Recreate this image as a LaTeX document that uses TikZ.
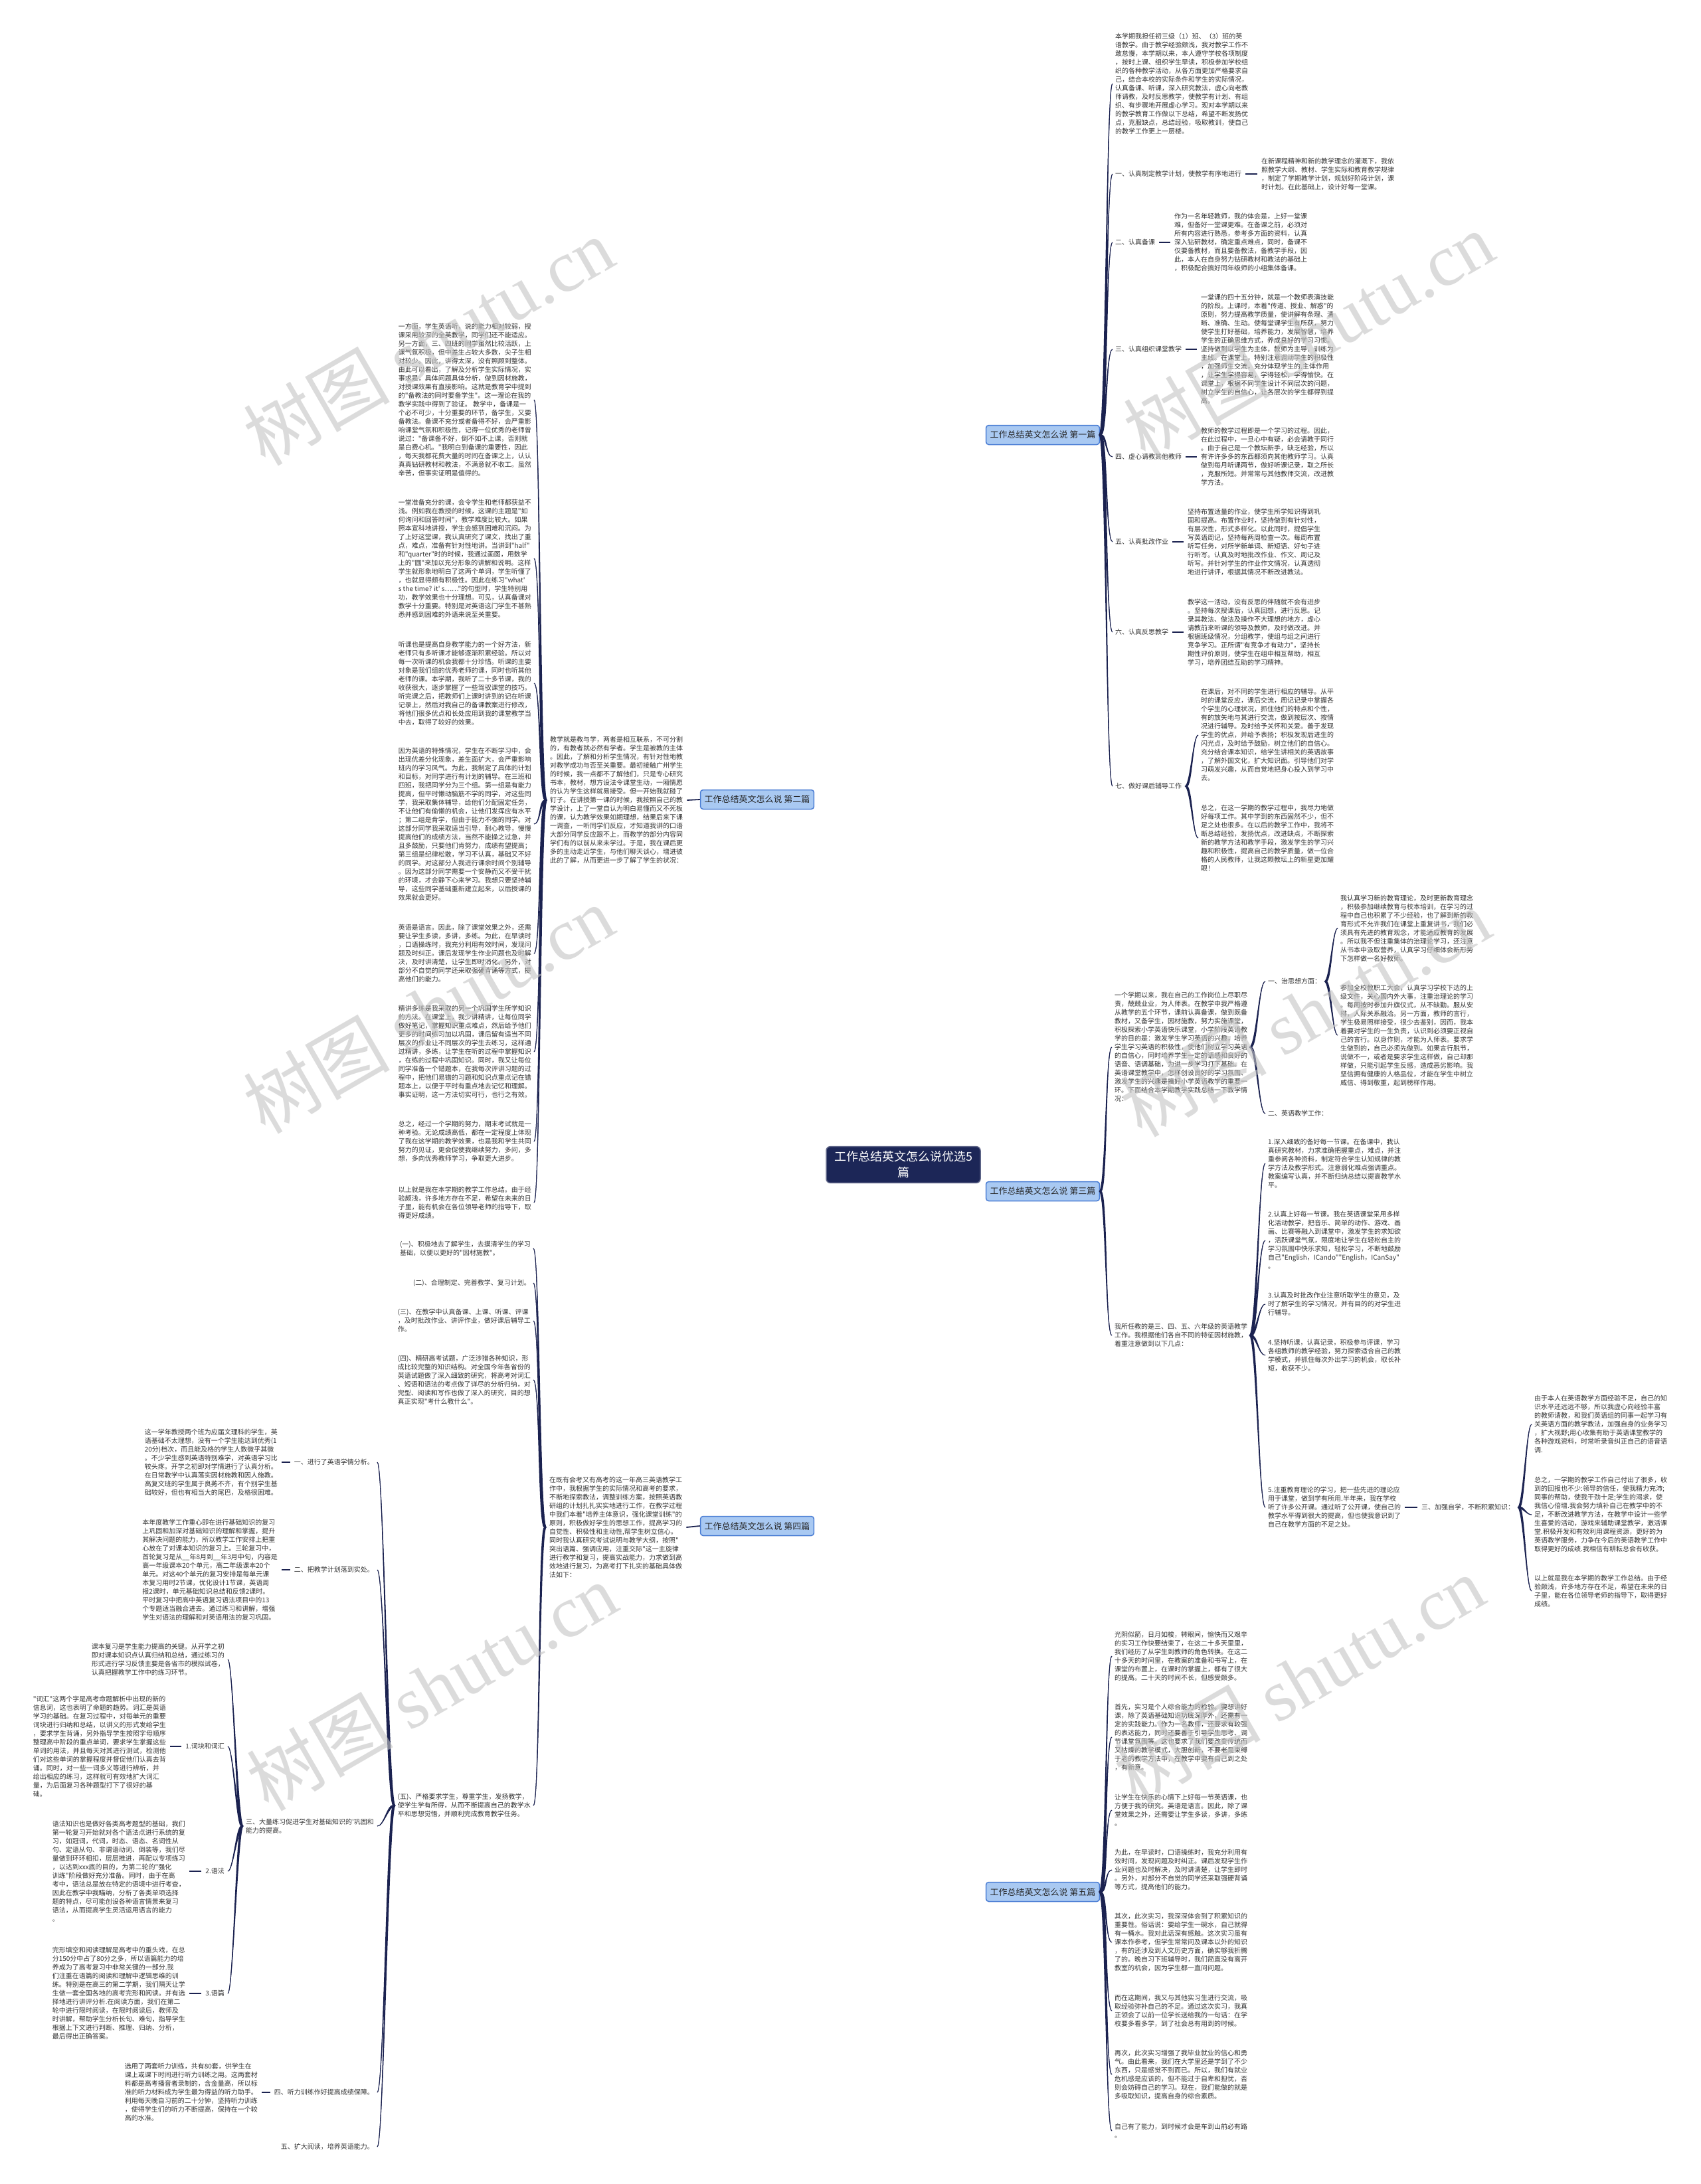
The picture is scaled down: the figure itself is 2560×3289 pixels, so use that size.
\documentclass[tikz,border=0pt]{standalone}
\usepackage{fontspec}
\newfontfamily\cjk{Noto Sans CJK SC}
\newfontfamily\wmlat{Liberation Serif}
\usetikzlibrary{calc}
\pgfdeclarelayer{bg}
\pgfsetlayers{bg,main}
\definecolor{linec}{HTML}{1B2250}
\definecolor{txtc}{HTML}{333333}
\definecolor{boxfill}{HTML}{A9C9F2}
\definecolor{boxdraw}{HTML}{4A7DD4}
\definecolor{cfill}{HTML}{1C2657}
\definecolor{wmc}{HTML}{C4C4C4}
% tapered connector: start, end, start control offset, end control offset
\newcommand\tap[4]{%
 \coordinate (tA) at (#1);
 \coordinate (tB) at (#2);
 \coordinate (u1) at ($(tA)!1.9pt!90:(tB)$);
 \coordinate (u2) at ($(tA)!1.9pt!-90:(tB)$);
 \coordinate (v1) at ($(tB)!0.4pt!-90:(tA)$);
 \coordinate (v2) at ($(tB)!0.4pt!90:(tA)$);
 \fill[linec] (u1) .. controls ($(u1)+(#3,0)$) and ($(v1)+(#4,0)$) .. (v1) -- (v2) .. controls ($(v2)+(#4,0)$) and ($(u2)+(#3,0)$) .. (u2) -- cycle;
 \draw[linec,line width=1pt] (tA) .. controls +(#3,0) and +(#4,0) .. (tB);
}
\begin{document}
\begin{tikzpicture}[x=1pt,y=-1pt,
 txt/.style={font=\cjk\fontsize{10}{13}\selectfont,inner sep=0pt,align=left,text=txtc},
 conn/.style={draw=linec,line width=2.6pt},
 dashc/.style={draw=linec,line width=1.8pt},
 branch/.style={draw=boxdraw,fill=boxfill,line width=1.5pt,rounded corners=4pt,font=\cjk\fontsize{13}{15}\selectfont,text=black!85,inner xsep=6pt,inner ysep=0pt,minimum height=29pt},
 centernode/.style={fill=cfill,draw=cfill!70!white,line width=1.5pt,rounded corners=6pt,font=\cjk\fontsize{18}{24}\selectfont,text=white,align=center,inner xsep=12pt,inner ysep=7pt},
 wm/.style={font=\fontsize{110}{110}\selectfont,text=wmc,opacity=0.6,rotate=30}]
\useasboundingbox (0,0) rectangle (2560,3289);
\fill[white] (0,0) rectangle (2560,3289);

% ---------- centre and branches ----------
\node[centernode] (c) at (1360,1754) {工作总结英文怎么说优选5\\篇};
\node[branch] (b1) at (1570,655) {工作总结英文怎么说 第一篇};
\node[branch] (b2) at (1140,1204) {工作总结英文怎么说 第二篇};
\node[branch] (b3) at (1570,1794) {工作总结英文怎么说 第三篇};
\node[branch] (b4) at (1140,2298) {工作总结英文怎么说 第四篇};
\node[branch] (b5) at (1570,2849) {工作总结英文怎么说 第五篇};

% ---------- first ----------
\node[txt,anchor=west] (p0) at (1679,126) {本学期我担任初三级（1）班、（3）班的英\\语教学。由于教学经验颇浅，我对教学工作不\\敢怠慢，本学期以来，本人遵守学校各项制度\\，按时上课、组织学生早读，积极参加学校组\\织的各种教学活动，从各方面更加严格要求自\\己，结合本校的实际条件和学生的实际情况，\\认真备课、听课，深入研究教法，虚心向老教\\师请教，及时反思教学，使教学有计划、有组\\织、有步骤地开展虚心学习。现对本学期以来\\的教学教育工作做以下总结，希望不断发扬优\\点，克服缺点，总结经验，吸取教训，使自己\\的教学工作更上一层楼。};
\node[txt,anchor=west] (l1) at (1679,262) {一、认真制定教学计划，使教学有序地进行};
\node[txt,anchor=west] (t1) at (1899,262) {在新课程精神和新的教学理念的灌溉下，我依\\照教学大纲、教材、学生实际和教育教学规律\\，制定了学期教学计划，规划好阶段计划，课\\时计划。在此基础上，设计好每一堂课。};
\node[txt,anchor=west] (l2) at (1679,365) {二、认真备课};
\node[txt,anchor=west] (t2) at (1768,365) {作为一名年轻教师，我的体会是，上好一堂课\\难，但备好一堂课更难。在备课之前，必须对\\所有内容进行熟悉，参考多方面的资料，认真\\深入钻研教材，确定重点难点，同时，备课不\\仅要备教材，而且要备教法，备教学手段，因\\此，本人在自身努力钻研教材和教法的基础上\\，积极配合搞好同年级师的小组集体备课。};
\node[txt,anchor=west] (l3) at (1679,526) {三、认真组织课堂教学};
\node[txt,anchor=west] (t3) at (1808,526) {一堂课的四十五分钟，就是一个教师表演技能\\的阶段。上课时，本着"传道、授业、解惑"的\\原则，努力提高教学质量，使讲解有条理、清\\晰、准确、生动。使每堂课学生有所获，努力\\使学生打好基础，培养能力，发展智慧，培养\\学生的正确思维方式，养成良好的学习习惯。\\坚持做到以学生为主体，教师为主导，训练为\\主线。在课堂上，特别注意调动学生的积极性\\，加强师生交流，充分体现学生的.主体作用\\，让学生学得容易，学得轻松，学得愉快。在\\课堂上，根据不同学生设计不同层次的问题，\\树立学生的自信心，让各层次的学生都得到提\\高。};
\node[txt,anchor=west] (l4) at (1679,688) {四、虚心请教其他教师};
\node[txt,anchor=west] (t4) at (1808,688) {教师的教学过程即是一个学习的过程。因此，\\在此过程中，一旦心中有疑，必会请教于同行\\。由于自己是一个教坛新手，缺乏经验，所以\\有许许多多的东西都须向其他教师学习。认真\\做到每月听课两节，做好听课记录，取之所长\\，克服所短。并常常与其他教师交流，改进教\\学方法。};
\node[txt,anchor=west] (l5) at (1679,816) {五、认真批改作业};
\node[txt,anchor=west] (t5) at (1788,816) {坚持布置适量的作业，使学生所学知识得到巩\\固和提高。布置作业时，坚持做到有针对性，\\有层次性，形式多样化。以此同时，提倡学生\\写英语周记，坚持每两周检查一次。每周布置\\听写任务，对所学新单词、新短语、好句子进\\行听写。认真及时地批改作业、作文、周记及\\听写。并针对学生的作业作文情况，认真透彻\\地进行讲评，根据其情况不断改进教法。};
\node[txt,anchor=west] (l6) at (1679,952) {六、认真反思教学};
\node[txt,anchor=west] (t6) at (1788,952) {教学这一活动，没有反思的伴随就不会有进步\\。坚持每次授课后，认真回想，进行反思。记\\录其教法、做法及操作不大理想的地方，虚心\\请教前来听课的领导及教师，及时做改进。并\\根据班级情况，分组教学，使组与组之间进行\\竞争学习。正所谓"有竞争才有动力"，坚持长\\期性评价原则，使学生在组中相互帮助，相互\\学习，培养团结互助的学习精神。};
\node[txt,anchor=west] (l7) at (1679,1184) {七、做好课后辅导工作};
\node[txt,anchor=west] (t7a) at (1808,1107) {在课后，对不同的学生进行相应的辅导。从平\\时的课堂反应，课后交流，周记记录中掌握各\\个学生的心理状况，抓住他们的特点和个性，\\有的放矢地与其进行交流，做到按层次、按情\\况进行辅导。及时给予关怀和关爱。善于发现\\学生的优点，并给予表扬；积极发现后进生的\\闪光点，及时给予鼓励，树立他们的自信心。\\充分结合课本知识，给学生讲相关的英语故事\\，了解外国文化，扩大知识面。引导他们对学\\习萌发兴趣，从而自觉地把身心投入到学习中\\去。};
\node[txt,anchor=west] (t7b) at (1808,1262) {总之，在这一学期的教学过程中，我尽力地做\\好每项工作。其中学到的东西固然不少，但不\\足之处也很多。在以后的教学工作中，我将不\\断总结经验，发扬优点，改进缺点，不断探索\\新的教学方法和教学手段，激发学生的学习兴\\趣和积极性，提高自己的教学质量，做一位合\\格的人民教师，让我这颗教坛上的新星更加耀\\眼！};

% ---------- second ----------
\node[txt,anchor=west] (smid) at (828,1205) {教学就是教与学，两者是相互联系，不可分割\\的，有教者就必然有学者。学生是被教的主体\\。因此，了解和分析学生情况，有针对性地教\\对教学成功与否至关重要。最初接触广州学生\\的时候，我一点都不了解他们，只是专心研究\\书本，教材，想方设法令课堂生动，一厢情愿\\的认为学生这样就易接受。但一开始我就碰了\\钉子。在讲授第一课的时候，我按照自己的教\\学设计，上了一堂自认为明白易懂而又不死板\\的课，认为教学效果如期理想，结果后来下课\\一调查，一听同学们反应，才知道我讲的口语\\大部分同学反应跟不上，而教学的部分内容同\\学们有的以前从来未学过。于是，我在课后更\\多的主动走近学生，与他们聊天谈心，增进彼\\此的了解，从而更进一步了解了学生的状况：};
\node[txt,anchor=east] (s1) at (800,602) {一方面，学生英语听，说的能力相对较弱，授\\课采用较深的全英教学，同学们还不能适应。\\另一方面，三、四班的同学虽然比较活跃，上\\课气氛积极，但中差生占较大多数，尖子生相\\对较少。因此，讲得太深，没有照顾到整体。\\由此可以看出，了解及分析学生实际情况，实\\事求是，具体问题具体分析，做到因材施教，\\对授课效果有直接影响。这就是教育学中提到\\的"备教法的同时要备学生"。这一理论在我的\\教学实践中得到了验证。 教学中，备课是一\\个必不可少，十分重要的环节，备学生，又要\\备教法。备课不充分或者备得不好，会严重影\\响课堂气氛和积极性，记得一位优秀的老师曾\\说过："备课备不好，倒不如不上课，否则就\\是白费心机。"我明白到备课的重要性，因此\\，每天我都花费大量的时间在备课之上，认认\\真真钻研教材和教法，不满意就不收工。虽然\\辛苦，但事实证明是值得的。};
\node[txt,anchor=east] (s2) at (800,841) {一堂准备充分的课，会令学生和老师都获益不\\浅。例如我在教授的时候，这课的主题是"如\\何询问和回答时间"，教学难度比较大。如果\\照本宣科地讲授，学生会感到困难和沉闷。为\\了上好这堂课，我认真研究了课文，找出了重\\点，难点，准备有针对性地讲。当讲到"half"\\和"quarter"时的时候，我通过画图，用数学\\上的"圆"来加以充分形象的讲解和说明。这样\\学生就形象地明白了这两个单词，学生听懂了\\，也就显得颇有积极性。因此在练习"what'\\s the time? it' s……"的句型时，学生特别用\\功，教学效果也十分理想。可见，认真备课对\\教学十分重要。特别是对英语这门学生不甚熟\\悉并感到困难的外语来说至关重要。};
\node[txt,anchor=east] (s3) at (800,1029) {听课也是提高自身教学能力的一个好方法，新\\老师只有多听课才能够逐渐积累经验。所以对\\每一次听课的机会我都十分珍惜。听课的主要\\对象是我们组的优秀老师的课，同时也听其他\\老师的课。本学期，我听了二十多节课，我的\\收获很大，逐步掌握了一些驾驭课堂的技巧。\\听完课之后，把教师们上课时讲到的记在听课\\记录上，然后对我自己的备课教案进行修改，\\将他们很多优点和长处应用到我的课堂教学当\\中去，取得了较好的效果。};
\node[txt,anchor=east] (s4) at (800,1241) {因为英语的特殊情况，学生在不断学习中，会\\出现优差分化现象，差生面扩大，会严重影响\\班内的学习风气。为此，我制定了具体的计划\\和目标，对同学进行有计划的辅导。在三班和\\四班，我把同学分为三个组。第一组是有能力\\提高，但平时懒动脑筋不学的同学，对这些同\\学，我采取集体辅导，给他们分配固定任务，\\不让他们有偷懒的机会，让他们发挥应有水平\\；第二组是肯学，但由于能力不强的同学。对\\这部分同学我采取适当引导，耐心教导，慢慢\\提高他们的成绩方法，当然不能操之过急，并\\且多鼓励，只要他们肯努力，成绩有望提高；\\第三组是纪律松散，学习不认真，基础又不好\\的同学。对这部分人我进行课余时间个别辅导\\。因为这部分同学需要一个安静而又不受干扰\\的环境，才会静下心来学习。我想只要坚持辅\\导，这些同学基础重新建立起来，以后授课的\\效果就会更好。};
\node[txt,anchor=east] (s5) at (800,1436) {英语是语言。因此，除了课堂效果之外，还需\\要让学生多读，多讲，多练。为此，在早读时\\，口语操练时，我充分利用有效时间，发现问\\题及时纠正。课后发现学生作业问题也及时解\\决，及时讲清楚，让学生即时消化。另外，对\\部分不自觉的同学还采取强硬背诵等方式，提\\高他们的能力。};
\node[txt,anchor=east] (s6) at (800,1584) {精讲多练是我采取的另一个巩固学生所学知识\\的方法。在课堂上，我少讲精讲，让每位同学\\做好笔记，掌握知识重点难点，然后给予他们\\更多的时间练习加以巩固，课后留有适当不同\\层次的作业让不同层次的学生去练习，这样通\\过精讲，多练，让学生在听的过程中掌握知识\\，在练的过程中巩固知识。同时，我又让每位\\同学准备一个错题本，在我每次评讲习题的过\\程中，把他们易错的习题和知识点重点记在错\\题本上，以便于平时有重点地去记忆和理解。\\事实证明，这一方法切实可行，也行之有效。};
\node[txt,anchor=east] (s7) at (800,1719) {总之，经过一个学期的努力，期末考试就是一\\种考验。无论成绩高低，都在一定程度上体现\\了我在这学期的教学效果，也是我和学生共同\\努力的见证，更会促使我继续努力，多问，多\\想，多向优秀教师学习，争取更大进步。};
\node[txt,anchor=east] (s8) at (800,1811) {以上就是我在本学期的教学工作总结。由于经\\验颇浅，许多地方存在不足，希望在未来的日\\子里，能有机会在各位领导老师的指导下，取\\得更好成绩。};

% ---------- third ----------
\node[txt,anchor=west] (tintro) at (1678,1577) {一个学期以来，我在自己的工作岗位上尽职尽\\责，兢兢业业，为人师表。在教学中我严格遵\\从教学的五个环节，课前认真备课，做到既备\\教材，又备学生，因材施教，努力实施课堂，\\积极探索小学英语快乐课堂，小学阶段英语教\\学的目的是：激发学生学习英语的兴趣，培养\\学生学习英语的积极性，使他们树立学习英语\\的自信心，同时培养学生一定的语感和良好的\\语音、语调基础，为进一步学习打下基础。在\\英语课堂教学中，怎样创设良好的学习氛围、\\激发学生的兴趣是搞好小学英语教学的重要一\\环。下面结合本学期教学实践总结一下教学情\\况：};
\node[txt,anchor=west] (ta1) at (1909,1478) {一、治思想方面：};
\node[txt,anchor=west] (ta2) at (1909,1677) {二、英语教学工作：};
\node[txt,anchor=west] (th1a) at (2018,1398) {我认真学习新的教育理论，及时更新教育理念\\，积极参加继续教育与校本培训，在学习的过\\程中自己也积累了不少经验，也了解到新的教\\育形式不允许我们在课堂上重复讲书，我们必\\须具有先进的教育观念，才能适应教育的发展\\。所以我不但注重集体的治理论学习，还注意\\从书本中汲取营养，认真学习仔细体会新形势\\下怎样做一名好教师。};
\node[txt,anchor=west] (th1b) at (2018,1559) {参加全校教职工大会，认真学习学校下达的上\\级文件，关心国内外大事，注重治理论的学习\\。每周按时参加升旗仪式，从不缺勤。服从安\\排，人际关系融洽。另一方面，教师的言行，\\学生极易照样接受，很少去鉴别，因而，我本\\着要对学生的一生负责，认识到必须要正视自\\己的言行。以身作则，才能为人师表。要求学\\生做到的，自己必须先做到。如果言行脱节，\\说做不一，或者是要求学生这样做，自己却那\\样做，只能引起学生反感，造成恶劣影响。我\\坚信拥有健康的人格品位，才能在学生中树立\\威信、得到敬重，起到榜样作用。};
\node[txt,anchor=west] (tb) at (1678,2011) {我所任教的是三、四、五、六年级的英语教学\\工作。我根据他们各自不同的特征因材施教，\\着重注意做到以下几点：};
\node[txt,anchor=west] (i1) at (1909,1752) {1.深入细致的备好每一节课。在备课中，我认\\真研究教材，力求准确把握重点，难点，并注\\重参阅各种资料，制定符合学生认知规律的教\\学方法及教学形式。注意弱化难点强调重点。\\教案编写认真，并不断归纳总结以提高教学水\\平。};
\node[txt,anchor=west] (i2) at (1909,1868) {2.认真上好每一节课。我在英语课堂采用多样\\化活动教学，把音乐、简单的动作、游戏、画\\画、比赛等融入到课堂中，激发学生的求知欲\\，活跃课堂气氛，限度地让学生在轻松自主的\\学习氛围中快乐求知，轻松学习，不断地鼓励\\自己"English，ICando""English，ICanSay"\\。};
\node[txt,anchor=west] (i3) at (1909,1964) {3.认真及时批改作业注意听取学生的意见，及\\时了解学生的学习情况，并有目的的对学生进\\行辅导。};
\node[txt,anchor=west] (i4) at (1909,2041) {4.坚持听课，认真记录，积极参与评课，学习\\各组教师的教学经验，努力探索适合自己的教\\学模式，并抓住每次外出学习的机会，取长补\\短，收获不少。};
\node[txt,anchor=west] (i5) at (1909,2270) {5.注重教育理论的学习，把一些先进的理论应\\用于课堂，做到学有所用.半年来，我在学校\\听了许多公开课。通过听了公开课，使自己的\\教学水平得到很大的提高，但也使我意识到了\\自己在教学方面的不足之处。};
\node[txt,anchor=west] (c3) at (2140,2270) {三、加强自学，不断积累知识：};
\node[txt,anchor=west] (f1) at (2310,2145) {由于本人在英语教学方面经验不足，自己的知\\识水平还远远不够，所以我虚心向经验丰富\\的教师请教，和我们英语组的同事一起学习有\\关英语方面的教学教法，加强自身的业务学习\\，扩大视野;用心收集有助于英语课堂教学的\\各种游戏资料，时常听录音纠正自己的语音语\\调.};
\node[txt,anchor=west] (f2) at (2310,2281) {总之，一学期的教学工作自己付出了很多，收\\到的回报也不少:领导的信任，使我精力充沛;\\同事的帮助，使我干劲十足;学生的渴求，使\\我信心倍增.我会努力填补自己在教学中的不\\足，不断改进教学方法，在教学中设计一些学\\生喜爱的活动，游戏来辅助课堂教学，激活课\\堂.积极开发和有效利用课程资源，更好的为\\英语教学服务，力争在今后的英语教学工作中\\取得更好的成绩.我相信有耕耘总会有收获。};
\node[txt,anchor=west] (f3) at (2310,2396) {以上就是我在本学期的教学工作总结。由于经\\验颇浅，许多地方存在不足，希望在未来的日\\子里，能在各位领导老师的指导下，取得更好\\成绩。};

% ---------- fourth ----------
\node[txt,anchor=west] (fmid) at (827,2300) {在既有会考又有高考的这一年高三英语教学工\\作中，我根据学生的实际情况和高考的要求，\\不断地探索教法，调整训练方案，按照英语教\\研组的计划扎扎实实地进行工作，在教学过程\\中我们本着"培养主体意识，强化课堂训练"的\\原则，积极做好学生的思想工作，提高学习的\\自觉性、积极性和主动性,帮学生树立信心。\\同时我认真研究考试说明与教学大纲，按照"\\突出语篇、强调应用，注重交际"这一主旋律\\进行教学和复习，提高实战能力，力求做到高\\效地进行复习，为高考打下扎实的基础具体做\\法如下：};
\node[txt,anchor=east] (fa) at (799,1880) {(一)、积极地去了解学生，去摸清学生的学习\\基础，以便以更好的"因材施教"。};
\node[txt,anchor=east] (fb) at (799,1932) {(二)、合理制定、完善教学、复习计划。};
\node[txt,anchor=east] (fc) at (799,1989) {(三)、在教学中认真备课、上课、听课、评课\\，及时批改作业、讲评作业，做好课后辅导工\\作。};
\node[txt,anchor=east] (fd) at (799,2078) {(四)、精研高考试题，广泛涉猎各种知识，形\\成比较完整的知识结构。对全国今年各省份的\\英语试题做了深入细致的研究，将高考对词汇\\、短语和语法的考点做了详尽的分析归纳，对\\完型、阅读和写作也做了深入的研究，目的想\\真正实现"考什么教什么"。};
\node[txt,anchor=east] (f5) at (799,2719) {(五)、严格要求学生，尊重学生，发扬教学，\\使学生学有所得，从而不断提高自己的教学水\\平和思想觉悟，并顺利完成教育教学任务。};
\node[txt,anchor=east] (g1) at (563,2202) {一、进行了英语学情分析。};
\node[txt,anchor=east] (gt1) at (418,2202) {这一学年教授两个班为应届文理科的学生，英\\语基础不太理想，没有一个学生能达到优秀(1\\20分)档次，而且能及格的学生人数微乎其微\\。不少学生感到英语特别难学，对英语学习比\\较头疼。开学之初即对学情进行了认真分析。\\在日常教学中认真落实因材施教和因人施教。\\高复文班的学生属于良莠不齐，有个别学生基\\础较好，但也有相当大的尾巴，及格很困难。};
\node[txt,anchor=east] (g2) at (563,2364) {二、把教学计划落到实处。};
\node[txt,anchor=east] (gt2) at (418,2364) {本年度教学工作重心即在进行基础知识的复习\\上巩固和加深对基础知识的理解和掌握，提升\\其解决问题的能力，所以教学工作安排上把重\\心放在了对课本知识的复习上。三轮复习中，\\首轮复习是从\_\_年8月到\_\_年3月中旬，内容是\\高一年级课本20个单元，高二年级课本20个\\单元。对这40个单元的复习安排是每单元课\\本复习用时2节课，优化设计1节课，英语周\\报2课时，单元基础知识总结和反馈2课时。\\平时复习中把高中英语复习语法项目中的13\\个专题适当融合进去。通过练习和讲解，增强\\学生对语法的理解和对英语用法的复习巩固。};
\node[txt,anchor=east] (g3) at (563,2750) {三、大量练习促进学生对基础知识的'巩固和\\能力的提高。};
\node[txt,anchor=east] (h0) at (338,2499) {课本复习是学生能力提高的关键。从开学之初\\即对课本知识点认真归纳和总结，通过练习的\\形式进行学习反馈主要是各省市的模拟试卷，\\认真把握教学工作中的练习环节。};
\node[txt,anchor=east] (h1) at (338,2630) {1.词块和词汇};
\node[txt,anchor=east] (h1t) at (250,2630) {"词汇"这两个字是高考命题解析中出现的新的\\信息词，这也表明了命题的趋势。词汇是英语\\学习的基础。在复习过程中，对每单元的重要\\词块进行归纳和总结，以讲义的形式发给学生\\，要求学生背诵，另外指导学生按照字母顺序\\整理高中阶段的重点单词，要求学生掌握这些\\单词的用法，并且每天对其进行测试，检测他\\们对这些单词的掌握程度并督促他们认真去背\\诵。同时，对一些一词多义等进行辨析，并\\给出相应的练习，这样就可有效地扩大词汇\\量，为后面复习各种题型打下了很好的基\\础。};
\node[txt,anchor=east] (h2) at (338,2818) {2.语法};
\node[txt,anchor=east] (h2t) at (279,2818) {语法知识也是做好各类高考题型的基础，我们\\第一轮复习开始就对各个语法点进行系统的复\\习，如冠词，代词，时态、语态、名词性从\\句、定语从句、非谓语动词、倒装等，我们尽\\量做到环环相扣，层层推进，再配以专项练习\\，以达到xxx底的目的，为第二轮的"强化\\训练"阶段做好充分准备。同时，由于在高\\考中，语法总是放在特定的语境中进行考查，\\因此在教学中我瞄纳，分析了各类单项选择\\题的特点，尽可能创设各种语言情景来复习\\语法，从而提高学生灵活运用语言的能力\\。};
\node[txt,anchor=east] (h3) at (338,3002) {3.语篇};
\node[txt,anchor=east] (h3t) at (279,3002) {完形填空和阅读理解是高考中的重头戏，在总\\分150分中占了80分之多，所以语篇能力的培\\养成为了高考复习中非常关键的一部分.我\\们注重在语篇的阅读和理解中逻辑思维的训\\练。特别是在高三的第二学期，我们隔天让学\\生做一套全国各地的高考完形和阅读。并有选\\择地进行讲评分析.在阅读方面，我们在第二\\轮中进行限时阅读，在限时阅读后，教师及\\时讲解，帮助学生分析长句、难句，指导学生\\根据上下文进行判断、推理、归纳、分析，\\最后得出正确答案。};
\node[txt,anchor=east] (g4) at (563,3151) {四、听力训练作好提高成绩保障。};
\node[txt,anchor=east] (g4t) at (388,3151) {选用了两套听力训练，共有80套，供学生在\\课上或课下时间进行听力训练之用。这两套材\\料都是高考播音者录制的，含金量高，所以标\\准的听力材料成为学生最为得益的听力助手。\\利用每天晚自习前的二十分钟，坚持听力训练\\，使得学生们的听力不断提高，保持在一个较\\高的水准。};
\node[txt,anchor=east] (g5) at (563,3233) {五、扩大阅读，培养英语能力。};

% ---------- fifth ----------
\node[txt,anchor=west] (e1) at (1678,2494) {光阴似箭，日月如梭，转眼间，愉快而又艰辛\\的实习工作快要结束了，在这二十多天里里，\\我们经历了从学生到教师的角色转换。在这二\\十多天的时间里，在教案的准备和书写上，在\\课堂的布置上，在课时的掌握上，都有了很大\\的提高。二十天的时间不长，但感受颇多。};
\node[txt,anchor=west] (e2) at (1678,2616) {首先，实习是个人综合能力的检验。要想讲好\\课，除了英语基础知识功底深厚外，还需有一\\定的实践能力。作为一名教师，还要求有较强\\的表达能力，同时还要善于引导学生思考、调\\节课堂氛围等。这也要求了我们要改变传统而\\又枯燥的教学模式，大胆创新，不要老是束缚\\于老的教学方法中，在教学中要有自己到之处\\，有新意。};
\node[txt,anchor=west] (e3) at (1678,2726) {让学生在快乐的心情下上好每一节英语课，也\\方便于我的研究。英语是语言。因此，除了课\\堂效果之外，还需要让学生多读，多讲，多练\\。};
\node[txt,anchor=west] (e4) at (1678,2816) {为此，在早读时，口语操练时，我充分利用有\\效时间，发现问题及时纠正。课后发现学生作\\业问题也及时解决，及时讲清楚，让学生即时\\。另外，对部分不自觉的同学还采取强硬背诵\\等方式，提高他们的能力。};
\node[txt,anchor=west] (e5) at (1678,2925) {其次，此次实习，我深深体会到了积累知识的\\重要性。俗话说：要给学生一碗水，自己就得\\有一桶水。我对此话深有感触。这次实习虽有\\课本作参考，但学生常常问及课本以外的知识\\，有的还涉及到人文历史方面，确实够我折腾\\了的。晚自习下班辅导时，我们简直没有离开\\教室的机会，因为学生都一直问问题。};
\node[txt,anchor=west] (e6) at (1678,3028) {而在这期间，我又与其他实习生进行交流，吸\\取经验弥补自己的不足。通过这次实习，我真\\正领会了以前一位学长送给我的一句话：在学\\校要多看多学，到了社会总有用到的时候。};
\node[txt,anchor=west] (e7) at (1678,3124) {再次，此次实习增强了我毕业就业的信心和勇\\气。由此看来，我们在大学里还是学到了不少\\东西，只是感觉不到而已。所以，我们有就业\\危机感是应该的，但不能过于自卑和担忧，否\\则会妨碍自己的学习。现在，我们能做的就是\\多吸取知识，提高自身的综合素质。};
\node[txt,anchor=west] (e8) at (1678,3209) {自己有了能力，到时候才会是车到山前必有路\\。};

% ---------- connectors ----------
\begin{pgfonlayer}{bg}
\draw[conn] (1400,1740) .. controls (1400,1000) and (1420,655) .. (b1.west);
\draw[conn] (1440,1760) .. controls (1460,1794) and (1460,1794) .. (b3.west);
\draw[conn] (1400,1770) .. controls (1400,2500) and (1420,2849) .. (b5.west);
\draw[conn] (1300,1740) .. controls (1300,1300) and (1290,1204) .. (b2.east);
\draw[conn] (1300,1770) .. controls (1300,2200) and (1290,2298) .. (b4.east);
\end{pgfonlayer}

\foreach \n in {p0,l1,l2,l3,l4,l5,l6,l7}
  {\tap{b1.east}{[xshift=-4pt]\n.west}{10}{-10}}
\foreach \a/\b in {l1/t1,l2/t2,l3/t3,l4/t4,l5/t5,l6/t6}
  \draw[dashc] ([xshift=6pt]\a.east) -- ([xshift=-6pt]\b.west);
\foreach \n in {t7a,t7b}
  {\tap{[xshift=6pt]l7.east}{[xshift=-4pt]\n.west}{8}{-8}}

\draw[dashc] ([xshift=6pt]smid.east) -- (b2.west);
\foreach \n in {s1,s2,s3,s4,s5,s6,s7,s8}
  {\tap{[xshift=-6pt]smid.west}{[xshift=4pt]\n.east}{-10}{10}}

\foreach \n in {tintro,tb}
  {\tap{b3.east}{[xshift=-4pt]\n.west}{10}{-10}}
\foreach \n in {ta1,ta2}
  {\tap{[xshift=4pt]tintro.east}{[xshift=-4pt]\n.west}{10}{-10}}
\foreach \n in {th1a,th1b}
  {\tap{[xshift=6pt]ta1.east}{[xshift=-4pt]\n.west}{8}{-8}}
\foreach \n in {i1,i2,i3,i4,i5}
  {\tap{[xshift=4pt]tb.east}{[xshift=-4pt]\n.west}{10}{-10}}
\draw[dashc] ([xshift=6pt]i5.east) -- ([xshift=-6pt]c3.west);
\foreach \n in {f1,f2,f3}
  {\tap{[xshift=6pt]c3.east}{[xshift=-4pt]\n.west}{8}{-8}}

\draw[dashc] ([xshift=6pt]fmid.east) -- (b4.west);
\foreach \n in {fa,fb,fc,fd,f5}
  {\tap{[xshift=-6pt]fmid.west}{[xshift=4pt]\n.east}{-10}{10}}
\foreach \n in {g1,g2,g3,g4,g5}
  {\tap{[xshift=-5pt]f5.west}{[xshift=5pt]\n.east}{-10}{10}}
\foreach \a/\b in {g1/gt1,g2/gt2,g4/g4t,h1/h1t,h2/h2t,h3/h3t}
  \draw[dashc] ([xshift=-6pt]\a.west) -- ([xshift=6pt]\b.east);
\foreach \n in {h0,h1,h2,h3}
  {\tap{[xshift=-5pt]g3.west}{[xshift=5pt]\n.east}{-8}{8}}

\foreach \n in {e1,e2,e3,e4,e5,e6,e7,e8}
  {\tap{b5.east}{[xshift=-4pt]\n.west}{10}{-10}}

% ---------- watermarks ----------
\foreach \p in {(645,514),(1970,505),(645,1520),(1965,1525),(650,2540),(1956,2529)}
  \node[wm] at \p {\cjk 树图 \wmlat shutu.cn};
\end{tikzpicture}
\end{document}
